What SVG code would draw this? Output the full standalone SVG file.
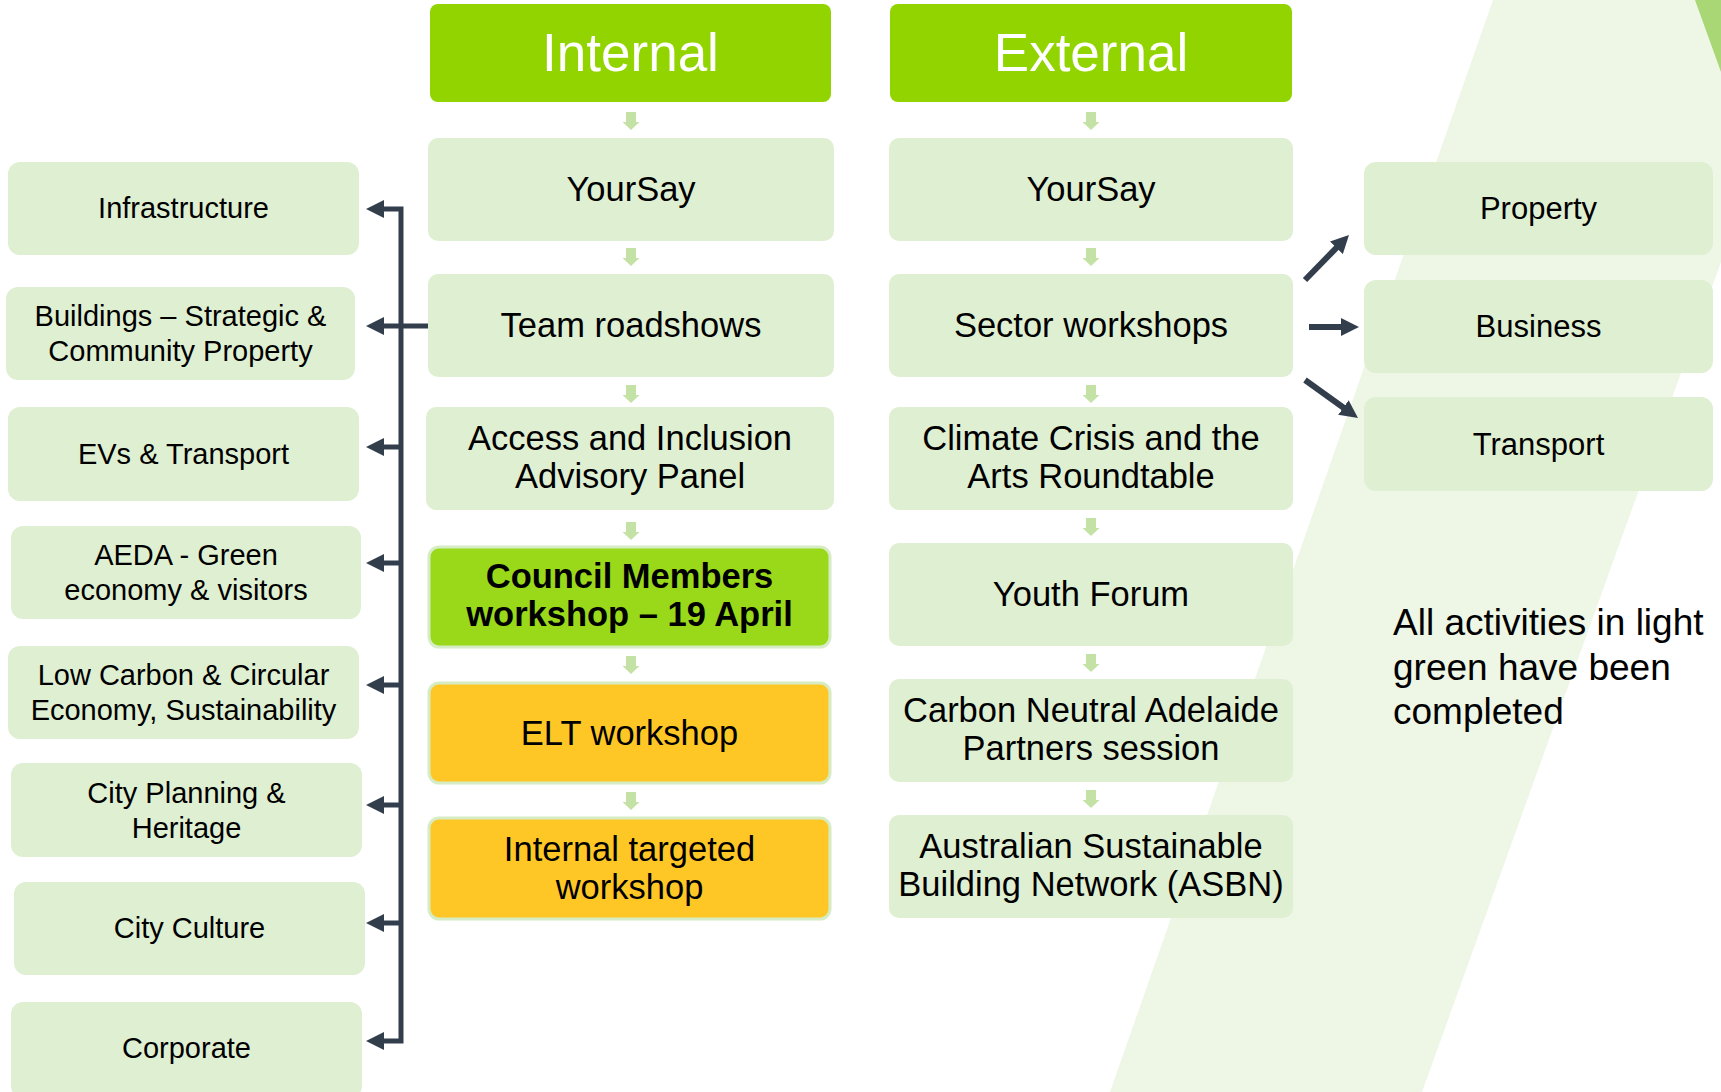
<svg xmlns="http://www.w3.org/2000/svg" width="1721" height="1092" viewBox="0 0 1721 1092">
<defs>
<style>
.bg{fill:#EEF6E6}
.stripe{fill:#A9D775}
.box{fill:#DFEFD2}
.hdr{fill:#92D400}
.cm{fill:#99D91A;stroke:#D6ECC4;stroke-width:3}
.amb{fill:#FFC726;stroke:#D6ECC4;stroke-width:3}
.t{font-family:"Liberation Sans",Arial,sans-serif;fill:#000;text-anchor:middle}
.h{font-size:53px;fill:#fff}
.m{font-size:34.5px}
.b{font-weight:bold}
.l{font-size:29px}
.r{font-size:31px}
.note{font-family:"Liberation Sans",Arial,sans-serif;font-size:37px;fill:#000}
.dn{fill:#C4E2A6}
.con{fill:none;stroke:#333E4D;stroke-width:5}
.con2{fill:none;stroke:#333E4D;stroke-width:6}
</style>
<marker id="ah" markerUnits="userSpaceOnUse" markerWidth="18" markerHeight="18" viewBox="0 0 18 18" refX="2" refY="9" orient="auto-start-reverse">
<path d="M0,0 L18,9 L0,18 z" fill="#333E4D"/>
</marker>
<path id="dnArrow" d="M-5,0 H5 V10 H8.5 L0,18 L-8.5,10 H-5 z"/>
</defs>

<g id="background">
<polygon class="bg" points="1493,0 1721,0 1721,262 1422,1092 1110,1092"/>
<polygon class="stripe" points="1695,0 1721,0 1721,72"/>
</g>

<g id="connectors">
<path class="con" d="M382,209 H401 V1041 H382" marker-start="url(#ah)" marker-end="url(#ah)"/>
<path class="con" d="M428,326 H382" marker-end="url(#ah)"/>
<path class="con" d="M401,447 H382" marker-end="url(#ah)"/>
<path class="con" d="M401,563 H382" marker-end="url(#ah)"/>
<path class="con" d="M401,685 H382" marker-end="url(#ah)"/>
<path class="con" d="M401,805 H382" marker-end="url(#ah)"/>
<path class="con" d="M401,923 H382" marker-end="url(#ah)"/>
<path class="con2" d="M1305,280 L1337.8,246.4" marker-end="url(#ah)"/>
<path class="con2" d="M1309,327 H1343" marker-end="url(#ah)"/>
<path class="con2" d="M1305,380 L1345,408.7" marker-end="url(#ah)"/>
<g class="dn">
<use href="#dnArrow" x="631" y="112"/>
<use href="#dnArrow" x="631" y="248"/>
<use href="#dnArrow" x="631" y="385"/>
<use href="#dnArrow" x="631" y="522"/>
<use href="#dnArrow" x="631" y="656"/>
<use href="#dnArrow" x="631" y="792"/>
<use href="#dnArrow" x="1091" y="112"/>
<use href="#dnArrow" x="1091" y="248"/>
<use href="#dnArrow" x="1091" y="385"/>
<use href="#dnArrow" x="1091" y="518"/>
<use href="#dnArrow" x="1091" y="654"/>
<use href="#dnArrow" x="1091" y="790"/>
</g>
</g>

<g id="hdr-internal"><rect class="hdr" x="430" y="4" width="401" height="98" rx="8"/><text class="t h" x="630.5" y="71">Internal</text></g>
<g id="hdr-external"><rect class="hdr" x="890" y="4" width="402" height="98" rx="8"/><text class="t h" x="1091" y="71">External</text></g>

<g id="int-yoursay"><rect class="box" x="428" y="138" width="406" height="103" rx="10"/><text class="t m" x="631" y="201">YourSay</text></g>
<g id="int-roadshows"><rect class="box" x="428" y="274" width="406" height="103" rx="10"/><text class="t m" x="631" y="337">Team roadshows</text></g>
<g id="int-access"><rect class="box" x="426" y="407" width="408" height="103" rx="10"/><text class="t m" x="630" y="450">Access and Inclusion</text><text class="t m" x="630" y="488">Advisory Panel</text></g>
<g id="int-council"><rect class="cm" x="429" y="547" width="401" height="100" rx="10"/><text class="t m b" x="629.5" y="588">Council Members</text><text class="t m b" x="629.5" y="626">workshop – 19 April</text></g>
<g id="int-elt"><rect class="amb" x="429" y="683" width="401" height="100" rx="10"/><text class="t m" x="629.5" y="745">ELT workshop</text></g>
<g id="int-targeted"><rect class="amb" x="429" y="818" width="401" height="101" rx="10"/><text class="t m" x="629.5" y="861">Internal targeted</text><text class="t m" x="629.5" y="899">workshop</text></g>

<g id="ext-yoursay"><rect class="box" x="889" y="138" width="404" height="103" rx="10"/><text class="t m" x="1091" y="201">YourSay</text></g>
<g id="ext-sector"><rect class="box" x="889" y="274" width="404" height="103" rx="10"/><text class="t m" x="1091" y="337">Sector workshops</text></g>
<g id="ext-climate"><rect class="box" x="889" y="407" width="404" height="103" rx="10"/><text class="t m" x="1091" y="450">Climate Crisis and the</text><text class="t m" x="1091" y="488">Arts Roundtable</text></g>
<g id="ext-youth"><rect class="box" x="889" y="543" width="404" height="103" rx="10"/><text class="t m" x="1091" y="606">Youth Forum</text></g>
<g id="ext-carbon"><rect class="box" x="889" y="679" width="404" height="103" rx="10"/><text class="t m" x="1091" y="722">Carbon Neutral Adelaide</text><text class="t m" x="1091" y="760">Partners session</text></g>
<g id="ext-asbn"><rect class="box" x="889" y="815" width="404" height="103" rx="10"/><text class="t m" x="1091" y="858">Australian Sustainable</text><text class="t m" x="1091" y="896">Building Network (ASBN)</text></g>

<g id="l-infra"><rect class="box" x="8" y="162" width="351" height="93" rx="12"/><text class="t l" x="183.5" y="218">Infrastructure</text></g>
<g id="l-buildings"><rect class="box" x="6" y="287" width="349" height="93" rx="12"/><text class="t l" x="180.5" y="326">Buildings – Strategic &amp;</text><text class="t l" x="180.5" y="361">Community Property</text></g>
<g id="l-evs"><rect class="box" x="8" y="407" width="351" height="94" rx="12"/><text class="t l" x="183.5" y="464">EVs &amp; Transport</text></g>
<g id="l-aeda"><rect class="box" x="11" y="526" width="350" height="93" rx="12"/><text class="t l" x="186" y="565">AEDA - Green</text><text class="t l" x="186" y="600">economy &amp; visitors</text></g>
<g id="l-lowcarbon"><rect class="box" x="8" y="646" width="351" height="93" rx="12"/><text class="t l" x="183.5" y="685">Low Carbon &amp; Circular</text><text class="t l" x="183.5" y="720">Economy, Sustainability</text></g>
<g id="l-planning"><rect class="box" x="11" y="763" width="351" height="94" rx="12"/><text class="t l" x="186.5" y="803">City Planning &amp;</text><text class="t l" x="186.5" y="838">Heritage</text></g>
<g id="l-culture"><rect class="box" x="14" y="882" width="351" height="93" rx="12"/><text class="t l" x="189.5" y="938">City Culture</text></g>
<g id="l-corporate"><rect class="box" x="11" y="1002" width="351" height="96" rx="12"/><text class="t l" x="186.5" y="1058">Corporate</text></g>

<g id="r-property"><rect class="box" x="1364" y="162" width="349" height="93" rx="12"/><text class="t r" x="1538.5" y="219">Property</text></g>
<g id="r-business"><rect class="box" x="1364" y="280" width="349" height="93" rx="12"/><text class="t r" x="1538.5" y="337">Business</text></g>
<g id="r-transport"><rect class="box" x="1364" y="397" width="349" height="94" rx="12"/><text class="t r" x="1538.5" y="455">Transport</text></g>

<g id="note"><text class="note" x="1393" y="635">All activities in light</text><text class="note" x="1393" y="680">green have been</text><text class="note" x="1393" y="724">completed</text></g>
</svg>
